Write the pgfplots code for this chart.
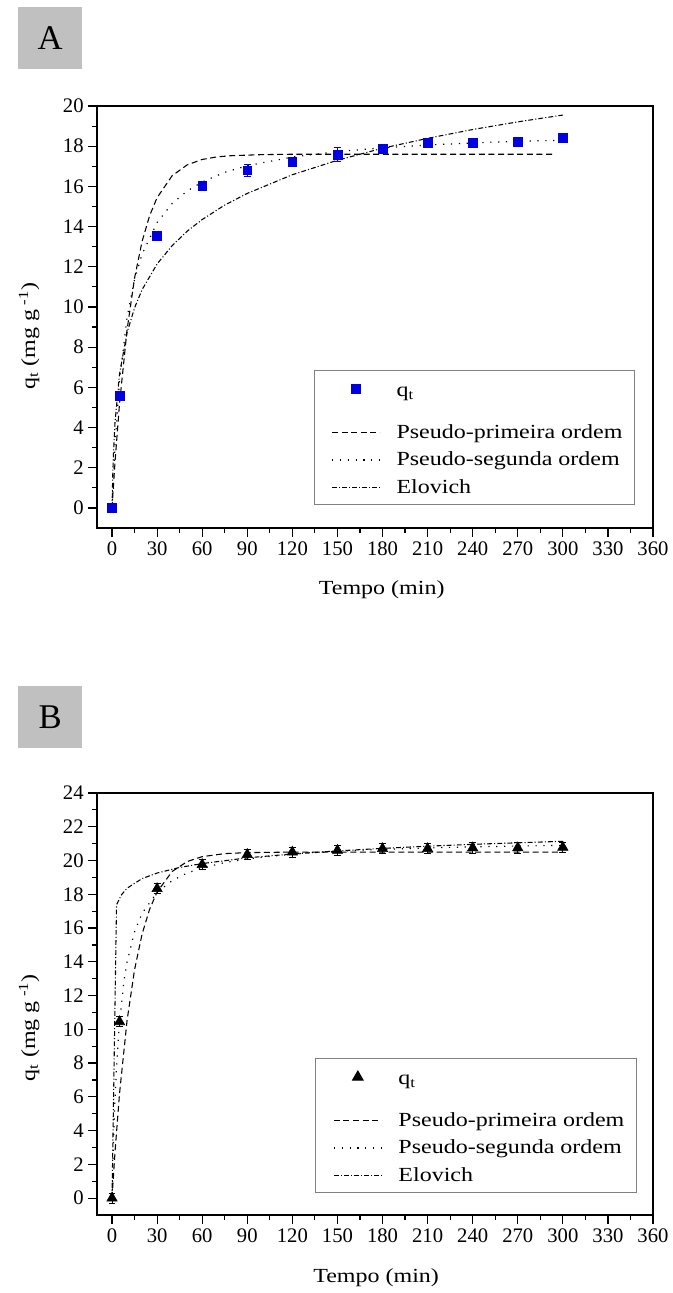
\documentclass[border=0pt]{standalone}
\usepackage{fontspec}
\setmainfont{Liberation Serif}
\usepackage{graphicx}
\usepackage{pgfplots}
\pgfplotsset{compat=1.18}

\definecolor{markblue}{RGB}{0,0,225}
\definecolor{boxgray}{RGB}{192,192,192}
\newcommand{\sx}[1]{\scalebox{1.2}[1]{#1}}

\pgfplotsset{
  lineleg/.style={legend image code/.code={\draw[##1] (0pt,0pt) -- (36pt,0pt); \path (-6pt,0pt) (46pt,0pt);}},
  markleg/.style={legend image code/.code={\draw[##1] plot coordinates {(18pt,3pt)}; \path (-6pt,-16pt) (46pt,12pt);}},
  pfo/.style={black, line width=0.8pt, dash pattern=on 4.5pt off 2.7pt, lineleg},
  pso/.style={black, line width=0.9pt, dash pattern=on 0.9pt off 5pt, lineleg},
  elo/.style={black, line width=0.8pt, dash pattern=on 3.6pt off 1.6pt on 0.8pt off 1.6pt, lineleg},
  kin/.style={
    scale only axis, width=417pt, height=316.5pt,
    xmin=-10, xmax=360, xtick={0,30,...,360}, minor x tick num=1,
    minor y tick num=1,
    tick align=outside, tick pos=left,
    major tick length=6.5pt, minor tick length=3.75pt,
    every tick/.style={black, line width=0.9pt},
    axis line style={line width=1.2pt},
    tick label style={font=\fontsize{15.5}{17}\selectfont},
    /pgf/number format/assume math mode=true,
    label style={font=\fontsize{15}{17}\selectfont},
    xlabel={\sx{Tempo (min)}},
    ylabel={\sx{q\textsubscript{t} (mg g\textsuperscript{ -1})}},
    legend style={draw=gray, line width=0.75pt, font=\fontsize{15}{17}\selectfont,
      anchor=north east, inner xsep=7pt, inner ysep=4.5pt, row sep=5pt},
    legend cell align=left,
    reverse legend,
  }
}

\begin{document}
\begin{tikzpicture}
\path[use as bounding box] (0,0) rectangle (504.75pt,-969.75pt);

% Panel labels
\node[fill=boxgray, minimum width=48pt, minimum height=46.5pt, inner sep=0pt,
      font=\fontsize{26}{30}\selectfont] at (37.7pt,-28.4pt) {A};
\node[fill=boxgray, minimum width=48pt, minimum height=46.5pt, inner sep=0pt,
      font=\fontsize{26}{30}\selectfont] at (37.7pt,-537.75pt) {B};

% ---------------- Panel A ----------------
\begin{axis}[kin, at={(72.75pt,-396pt)}, anchor=south west,
  ymin=-1, ymax=20, ytick={0,2,...,20},
  xlabel style={at={(rel axis cs:0.512,-0.147)}, anchor=center},
  ylabel style={at={(rel axis cs:-0.122,0.455)}, anchor=center},
  legend style={at={(rel axis cs:0.9676,0.3744)}}]

\addplot[elo] coordinates {(0,0)(0.5,1.69)(1,2.79)(2,4.27)(5,6.68)(10,8.72)(15,9.96)(20,10.86)(30,12.14)(40,13.05)(50,13.77)(60,14.35)(75,15.07)(90,15.65)(120,16.58)(150,17.30)(180,17.90)(210,18.39)(240,18.83)(270,19.21)(300,19.55)};
\addlegendentry{\sx{Elovich}}

\addplot[pso] coordinates {(0,0)(2,3.17)(5,6.33)(10,9.48)(15,11.37)(20,12.63)(30,14.20)(40,15.15)(50,15.77)(60,16.22)(75,16.70)(90,17.03)(120,17.46)(150,17.73)(180,17.92)(210,18.06)(240,18.16)(270,18.24)(300,18.30)};
\addlegendentry{\sx{Pseudo-segunda ordem}}

\addplot[pfo] coordinates {(0,0)(2,2.30)(5,5.20)(10,8.86)(15,11.44)(20,13.26)(25,14.54)(30,15.44)(40,16.53)(50,17.07)(60,17.34)(70,17.47)(80,17.53)(100,17.58)(120,17.6)(150,17.6)(200,17.6)(250,17.6)(295,17.6)};
\addlegendentry{\sx{Pseudo-primeira ordem}}

\addplot[markleg, only marks, mark=square*, mark size=3.3pt, color=markblue,
  error bars/.cd, y dir=both, y explicit,
  error bar style={line width=0.6pt, markblue},
  error mark options={rotate=90, mark size=2.6pt, line width=0.6pt, markblue}]
  table[x=t, y=q, y error=e] {
t q e
0 0 0.1
5 5.6 0.15
30 13.55 0.2
60 16.02 0.2
90 16.8 0.3
120 17.22 0.15
150 17.58 0.35
180 17.87 0.2
210 18.17 0.15
240 18.17 0.1
270 18.22 0.1
300 18.42 0.1
};
\addlegendentry{\sx{q\textsubscript{t}}}
\end{axis}

% ---------------- Panel B ----------------
\begin{axis}[kin, at={(72.75pt,-911.25pt)}, anchor=south west,
  ymin=-1, ymax=24, ytick={0,2,...,24},
  xlabel style={at={(rel axis cs:0.502,-0.149)}, anchor=center},
  ylabel style={at={(rel axis cs:-0.122,0.444)}, anchor=center},
  legend style={at={(rel axis cs:0.971,0.372)}}]

\addplot[elo] coordinates {(0,0)(3,17.37)(6,17.94)(10,18.36)(20,18.93)(30,19.26)(45,19.59)(60,19.82)(90,20.16)(120,20.39)(150,20.57)(180,20.72)(210,20.85)(240,20.96)(270,21.05)(300,21.14)};
\addlegendentry{\sx{Elovich}}

\addplot[pso] coordinates {(0,0)(1,3.43)(2,5.91)(3,7.78)(5,10.42)(8,12.88)(10,13.99)(15,15.79)(20,16.87)(30,18.12)(40,18.81)(50,19.26)(60,19.56)(75,19.88)(90,20.10)(120,20.38)(150,20.55)(180,20.66)(210,20.75)(240,20.81)(270,20.86)(300,20.90)};
\addlegendentry{\sx{Pseudo-segunda ordem}}

\addplot[pfo] coordinates {(0,0)(2,2.75)(5,6.20)(10,10.52)(15,13.54)(20,15.64)(25,17.11)(30,18.14)(40,19.35)(50,19.94)(60,20.23)(75,20.41)(90,20.47)(120,20.5)(150,20.5)(200,20.5)(250,20.5)(300,20.5)};
\addlegendentry{\sx{Pseudo-primeira ordem}}

\addplot[markleg, only marks, mark=triangle*, mark size=4.5pt, color=black,
  error bars/.cd, y dir=both, y explicit,
  error bar style={line width=0.6pt, black},
  error mark options={rotate=90, mark size=2.6pt, line width=0.6pt, black}]
  table[x=t, y=q, y error=e] {
t q e
0 0 0.3
5 10.45 0.3
30 18.33 0.3
60 19.76 0.3
90 20.35 0.3
120 20.5 0.3
150 20.6 0.3
180 20.7 0.3
210 20.7 0.3
240 20.75 0.3
270 20.75 0.3
300 20.78 0.3
};
\addlegendentry{\sx{q\textsubscript{t}}}
\end{axis}
\end{tikzpicture}
\end{document}
